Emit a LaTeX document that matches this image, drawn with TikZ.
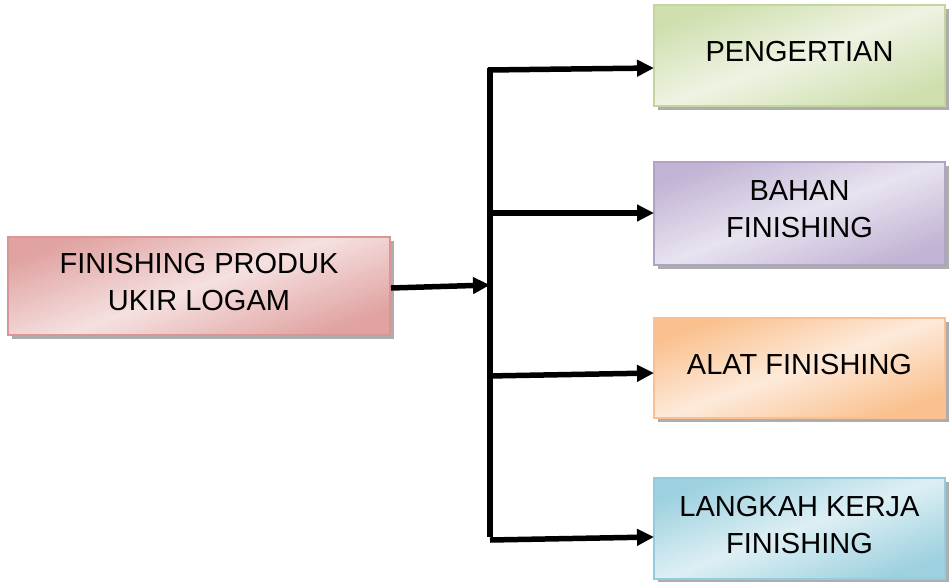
\documentclass[tikz,border=0pt]{standalone}
\usepackage{fontspec}
\setmainfont{Liberation Sans}
\usetikzlibrary{arrows.meta,shadows}
\definecolor{mainB}{HTML}{D99694}\definecolor{mainD}{HTML}{E0A3A2}\definecolor{mainL}{HTML}{F5E1E0}
\definecolor{grnB}{HTML}{C3D69B}\definecolor{grnD}{HTML}{CFDFAE}\definecolor{grnL}{HTML}{EEF3E3}
\definecolor{purB}{HTML}{B3A2C7}\definecolor{purD}{HTML}{C2B4D5}\definecolor{purL}{HTML}{E8E3EF}
\definecolor{orgB}{HTML}{FAC090}\definecolor{orgD}{HTML}{FAC08D}\definecolor{orgL}{HTML}{FDEADA}
\definecolor{bluB}{HTML}{93CDDD}\definecolor{bluD}{HTML}{9DD1DF}\definecolor{bluL}{HTML}{DDEFF4}
\tikzset{
  boxbase/.style={draw, line width=2pt, inner sep=0pt, align=center, text depth=8pt,
    font=\fontsize{29}{37}\selectfont,
    drop shadow={shadow xshift=4pt, shadow yshift=-4pt, fill=black!40, opacity=0.8}},
  mainbox/.style={boxbase, draw=mainB, minimum width=382pt, minimum height=98pt,
    top color=mainD, bottom color=mainD, middle color=mainL, shading angle=20},
  grnbox/.style={boxbase, draw=grnB, minimum width=291pt, minimum height=101pt,
    top color=grnD, bottom color=grnD, middle color=grnL, shading angle=20},
  purbox/.style={boxbase, draw=purB, minimum width=291pt, minimum height=103pt,
    top color=purD, bottom color=purD, middle color=purL, shading angle=20},
  orgbox/.style={boxbase, draw=orgB, minimum width=291pt, minimum height=100pt,
    top color=orgD, bottom color=orgD, middle color=orgL, shading angle=20},
  blubox/.style={boxbase, draw=bluB, minimum width=291pt, minimum height=101pt,
    top color=bluD, bottom color=bluD, middle color=bluL, shading angle=20},
  conn/.style={line width=5.5pt, black},
  arr/.style={conn, -{Triangle[length=17pt,width=16pt]}},
}
\begin{document}
\begin{tikzpicture}[x=1pt,y=-1pt]
\useasboundingbox (0,0) rectangle (952,581);
\node[mainbox] (main) at (199,286) {FINISHING PRODUK\\UKIR LOGAM};
\node[grnbox] (pen) at (799.5,55.5) {PENGERTIAN};
\node[purbox] (bah) at (799.5,213.5) {BAHAN\\FINISHING};
\node[orgbox] (alat) at (799.5,368) {ALAT FINISHING};
\node[blubox] (lang) at (799.5,528.5) {LANGKAH KERJA\\FINISHING};
\coordinate (jn) at (490,285);
\coordinate (ttop) at (490,67.5);
\coordinate (tbot) at (490,537);
\coordinate (t1) at (488,70);
\coordinate (t2) at (488,213);
\coordinate (t3) at (488,376);
\coordinate (t4) at (490,540);
\coordinate (e1) at (654,68);
\coordinate (e2) at (654,213);
\coordinate (e3) at (654,373);
\coordinate (e4) at (654,537);
\draw[conn] (ttop) -- (tbot);
\draw[arr] (main.east |- 0,288) -- (jn);
\draw[arr] (t1) -- (e1);
\draw[arr] (t2) -- (e2);
\draw[arr] (t3) -- (e3);
\draw[arr] (t4) -- (e4);
\end{tikzpicture}
\end{document}
